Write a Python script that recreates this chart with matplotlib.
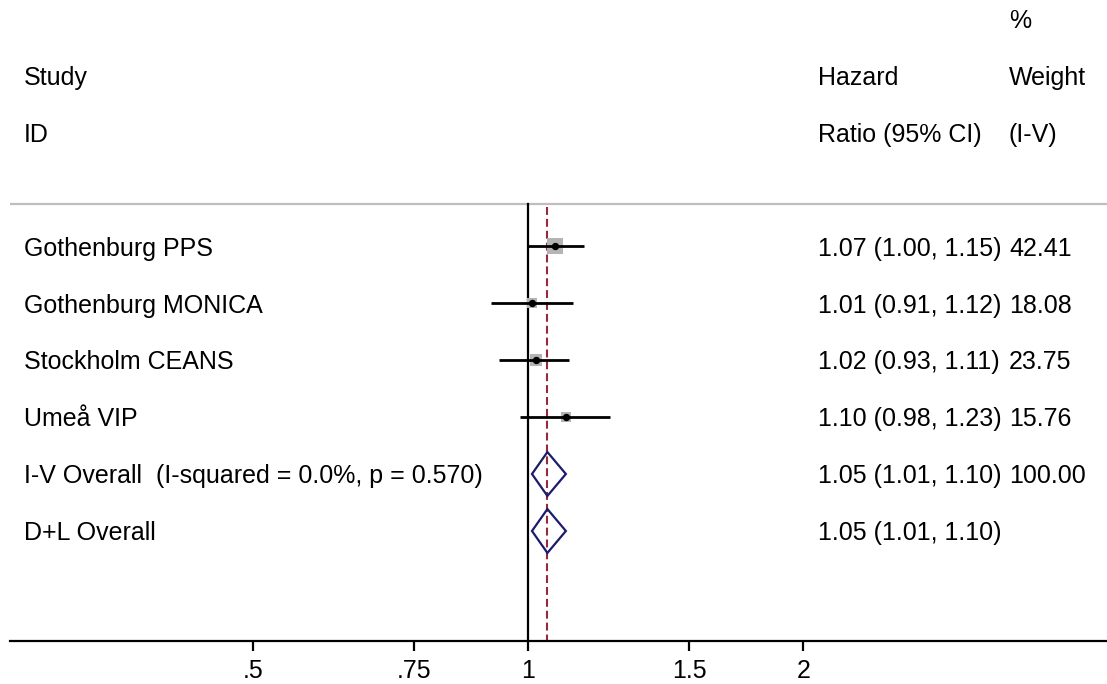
import numpy as np
import matplotlib
matplotlib.use("Agg")
import matplotlib.pyplot as plt
from matplotlib.patches import Polygon
from matplotlib import transforms

plt.rcParams['font.family'] = ['Liberation Sans', 'DejaVu Sans']

# Study level estimates (hazard ratios)
studies = ["Gothenburg PPS", "Gothenburg MONICA", "Stockholm CEANS", "Umeå VIP"]
hr = [1.07, 1.01, 1.02, 1.10]
ci_lo = [1.00, 0.91, 0.93, 0.98]
ci_hi = [1.15, 1.12, 1.11, 1.23]
weights = [42.41, 18.08, 23.75, 15.76]

# Pooled estimates
pooled_labels = ["I-V Overall  (I-squared = 0.0%, p = 0.570)", "D+L Overall"]
pooled_hr = [1.05, 1.05]
pooled_lo = [1.01, 1.01]
pooled_hi = [1.10, 1.10]
pooled_weights = ["100.00", ""]

xticks = [0.5, 0.75, 1, 1.5, 2]
xticklabels = [".5", ".75", "1", "1.5", "2"]

W, H = 1107, 684
fig = plt.figure(figsize=(W / 100, H / 100), dpi=100)
ax = fig.add_axes([10 / W, 43 / H, 1 - 10 / W, 641 / H])
ax.set_xscale("log")
ax.set_xlim(0.2712, 4.299)
ax.set_ylim(6.93, -4.316)

fs = 18

for s in ["top", "right", "left"]:
    ax.spines[s].set_visible(False)
ax.spines["bottom"].set_linewidth(1.6)
ax.set_yticks([])
ax.set_xticks(xticks)
ax.set_xticklabels(xticklabels, fontsize=fs)
ax.xaxis.set_minor_locator(matplotlib.ticker.NullLocator())
ax.tick_params(axis="x", length=7, width=1.6, pad=6)

# header separator
ax.axhline(-0.737, color="#bebebe", lw=1.6, zorder=1)

# null line and pooled estimate line
ax.plot([1, 1], [-0.737, 6.93], color="black", lw=1.6, zorder=2)
ax.plot([pooled_hr[0]] * 2, [-0.68, 6.93], color="#952b3a", lw=1.5,
        dashes=(3.8, 1.9), zorder=2)

# study rows
rows = np.arange(len(studies))
sizes = [125 * w / weights[0] for w in weights]
ax.scatter(hr, rows, marker="s", s=sizes, color="#b4b4b4", zorder=3, lw=0)
ax.hlines(rows, ci_lo, ci_hi, color="black", lw=2, zorder=4)
ax.plot(hr, rows, "o", color="black", ms=4.3, zorder=5)

# pooled diamonds
for i in range(len(pooled_hr)):
    y = len(studies) + i
    d = Polygon([(pooled_lo[i], y), (pooled_hr[i], y - 0.385),
                 (pooled_hi[i], y), (pooled_hr[i], y + 0.385)],
                closed=True, fill=False, edgecolor="#1c1c6e", lw=1.6, zorder=4)
    ax.add_patch(d)

# text columns
tr = transforms.blended_transform_factory(fig.transFigure, ax.transData)
col_study = 24 / W
col_hr = 818 / W
col_wt = 1009 / W
va = "center_baseline"

ax.text(col_wt, -4, "%", transform=tr, fontsize=fs, va=va)
ax.text(col_study, -3, "Study", transform=tr, fontsize=fs, va=va)
ax.text(col_hr, -3, "Hazard", transform=tr, fontsize=fs, va=va)
ax.text(col_wt, -3, "Weight", transform=tr, fontsize=fs, va=va)
ax.text(col_study, -2, "ID", transform=tr, fontsize=fs, va=va)
ax.text(col_hr, -2, "Ratio (95% CI)", transform=tr, fontsize=fs, va=va)
ax.text(col_wt, -2, "(I-V)", transform=tr, fontsize=fs, va=va)

for i, name in enumerate(studies):
    ax.text(col_study, i, name, transform=tr, fontsize=fs, va=va)
    ax.text(col_hr, i, f"{hr[i]:.2f} ({ci_lo[i]:.2f}, {ci_hi[i]:.2f})",
            transform=tr, fontsize=fs, va=va)
    ax.text(col_wt, i, f"{weights[i]:.2f}", transform=tr, fontsize=fs, va=va)

for i, name in enumerate(pooled_labels):
    y = len(studies) + i
    ax.text(col_study, y, name, transform=tr, fontsize=fs, va=va)
    ax.text(col_hr, y, f"{pooled_hr[i]:.2f} ({pooled_lo[i]:.2f}, {pooled_hi[i]:.2f})",
            transform=tr, fontsize=fs, va=va)
    ax.text(col_wt, y, pooled_weights[i], transform=tr, fontsize=fs, va=va)

fig.savefig("out.png", dpi=100)
